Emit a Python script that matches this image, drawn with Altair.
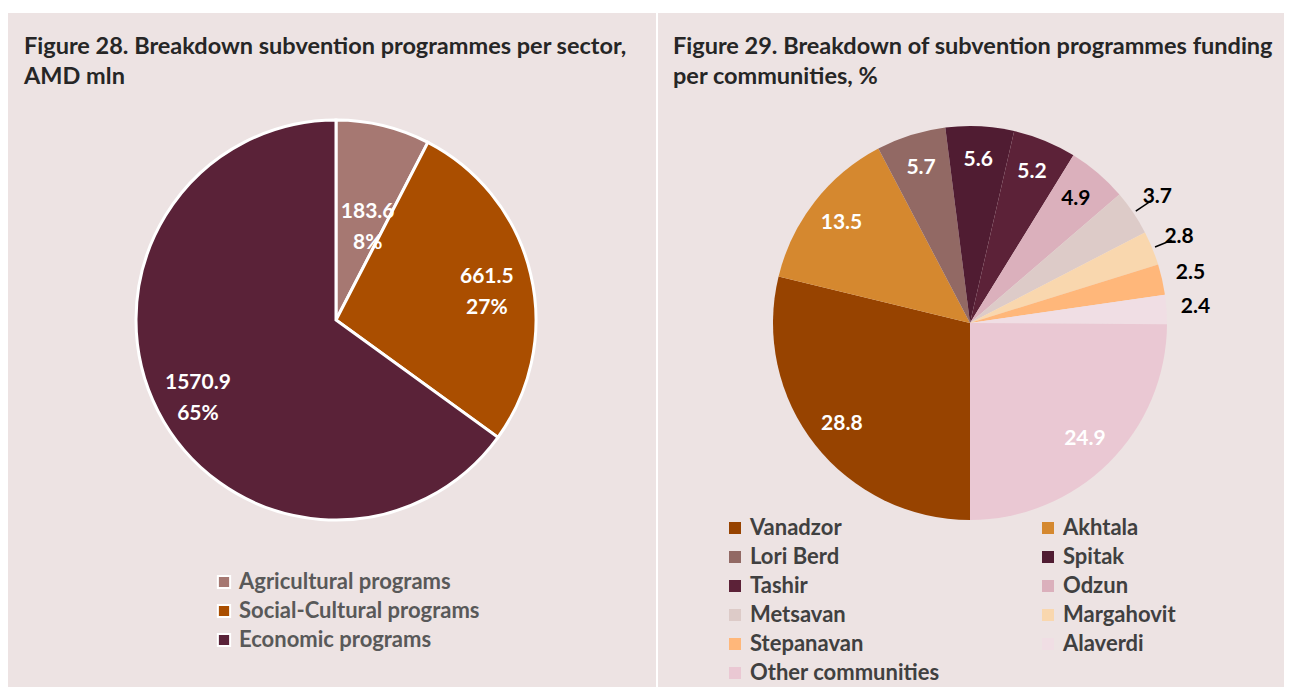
import altair as alt
import pandas as pd

# ---------------- data ----------------
sectors = ["Agricultural programs", "Social-Cultural programs", "Economic programs"]
sector_values = [183.6, 661.5, 1570.9]
sector_colors = ["#A67872", "#AA4E00", "#5A2238"]

communities = ["Vanadzor", "Akhtala", "Lori Berd", "Spitak", "Tashir", "Odzun",
               "Metsavan", "Margahovit", "Stepanavan", "Alaverdi", "Other communities"]
community_values = [28.8, 13.5, 5.7, 5.6, 5.2, 4.9, 3.7, 2.8, 2.5, 2.4, 24.9]
community_colors = ["#974300", "#D5882F", "#926964", "#501C32", "#5C2238", "#DBB0BC",
                    "#DDCBC8", "#F9D7AE", "#FFB77A", "#F0DEE4", "#EAC8D3"]
leader_cats = ["Metsavan", "Margahovit"]

title_left = ["Figure 28. Breakdown subvention programmes per sector,", "AMD mln"]
title_right = ["Figure 29. Breakdown of subvention programmes funding", "per communities, %"]

# ---------------- style ----------------
BG = "#EDE3E3"
FONT = "Lato"
LW, RW, H = 648, 626, 674
TITLE_SIZE = 23.5
LEG_SIZE = 22

# legend is filled column by column: reorder so it reads row by row (2 columns)
legend_order = communities[0::2] + communities[1::2]
color_of = dict(zip(communities, community_colors))

# ---------------- left panel ----------------
df1 = pd.DataFrame({"sector": sectors, "value": sector_values, "idx": list(range(len(sectors)))})
CX1, CY1, R1 = 328, 307, 200

base1 = alt.Chart(df1).encode(
    theta=alt.Theta("value:Q", stack=True),
    order=alt.Order("idx:Q"),
    x=alt.value(CX1),
    y=alt.value(CY1),
)

arc1 = base1.mark_arc(outerRadius=R1, stroke="white", strokeWidth=3).encode(
    color=alt.Color(
        "sector:N",
        sort=sectors,
        scale=alt.Scale(domain=sectors, range=sector_colors),
        legend=alt.Legend(
            orient="none", legendX=205, legendY=558, title=None, padding=0,
            symbolType="square", symbolSize=150, symbolStrokeColor="white",
            symbolStrokeWidth=2, symbolOpacity=1,
            labelFont=FONT, labelFontSize=LEG_SIZE, labelFontWeight="bold",
            labelColor="#595959", rowPadding=7, labelOffset=4, labelLimit=400,
        ),
    )
)

lab1base = base1.encode(detail="sector:N").transform_joinaggregate(
    total="sum(value)"
).transform_calculate(
    share="datum.value / datum.total",
    full="[format(datum.value, '.1f'), format(datum.value / datum.total, '.0%')]",
)
lab1_small = lab1base.transform_calculate(
    t="datum.share < 0.1 ? datum.full : ''"
).mark_text(radius=100, font=FONT, fontSize=21, fontWeight="bold", color="white",
            lineHeight=31, baseline="middle", dy=-11, dx=8).encode(text="t:N")
lab1_big = lab1base.transform_calculate(
    t="datum.share >= 0.1 ? datum.full : ''"
).mark_text(radius=155, font=FONT, fontSize=21, fontWeight="bold", color="white",
            lineHeight=31, baseline="middle", dy=-7).encode(text="t:N")

title1 = alt.Chart(pd.DataFrame({"k": [0]})).mark_text(
    text=title_left, align="left", baseline="middle", font=FONT, fontSize=TITLE_SIZE,
    fontWeight="bold", color="#262626", lineHeight=30,
).encode(x=alt.value(16), y=alt.value(34))

left = alt.layer(arc1, lab1_small, lab1_big, title1).properties(width=LW, height=H)

# ---------------- right panel ----------------
df2 = pd.DataFrame({"community": communities, "value": community_values,
                    "idx": list(range(len(communities)))})
CX2, CY2, R2 = 312, 310, 197
PI = 3.141592653589793

base2 = alt.Chart(df2).encode(
    theta=alt.Theta("value:Q", stack=True, scale=alt.Scale(range=[PI, 3 * PI])),
    order=alt.Order("idx:Q"),
    x=alt.value(CX2),
    y=alt.value(CY2),
)

arc2 = base2.mark_arc(outerRadius=R2).encode(
    color=alt.Color(
        "community:N",
        scale=alt.Scale(domain=legend_order, range=[color_of[c] for c in legend_order]),
        legend=alt.Legend(
            orient="none", legendX=66, legendY=504, title=None, padding=0,
            columns=2, columnPadding=97,
            symbolType="square", symbolSize=144, symbolStrokeWidth=0, symbolOpacity=1,
            labelFont=FONT, labelFontSize=LEG_SIZE, labelFontWeight="bold",
            labelColor="#404040", rowPadding=7, labelOffset=4, labelLimit=400,
        ),
    )
)

lab2base = base2.encode(detail="community:N").transform_calculate(
    s="format(datum.value, '.1f')"
)
lab2_in = lab2base.transform_calculate(
    t="datum.value >= 4.5 ? datum.s : ''"
).mark_text(radius=163, font=FONT, fontSize=21, fontWeight="bold").encode(
    text="t:N",
    color=alt.condition("datum.value >= 5", alt.value("white"), alt.value("black")),
)
lab2_out = lab2base.transform_calculate(
    t="datum.value < 4.5 ? datum.s : ''"
).mark_text(radius=226, font=FONT, fontSize=21, fontWeight="bold", color="black").encode(
    text="t:N"
)

leader = alt.Chart(df2).transform_joinaggregate(
    total="sum(value)"
).transform_window(
    cum="sum(value)", sort=[alt.SortField("idx")]
).transform_calculate(
    mid=f"{PI} + 2 * {PI} * (datum.cum - datum.value / 2) / datum.total",
).transform_calculate(
    xa=f"{CX2} + {R2 + 3} * sin(datum.mid)",
    ya=f"{CY2} - {R2 + 3} * cos(datum.mid)",
    xb=f"{CX2} + {R2 + 21} * sin(datum.mid)",
    yb=f"{CY2} - {R2 + 21} * cos(datum.mid)",
).transform_filter(
    alt.FieldOneOfPredicate(field="community", oneOf=leader_cats)
).mark_rule(color="black", strokeWidth=1.5).encode(
    x=alt.X("xa:Q", scale=None), y=alt.Y("ya:Q", scale=None),
    x2="xb:Q", y2="yb:Q",
)

title2 = alt.Chart(pd.DataFrame({"k": [0]})).mark_text(
    text=title_right, align="left", baseline="middle", font=FONT, fontSize=TITLE_SIZE,
    fontWeight="bold", color="#262626", lineHeight=30,
).encode(x=alt.value(15), y=alt.value(34))

right = alt.layer(arc2, lab2_in, lab2_out, leader, title2).properties(width=RW, height=H)

chart = alt.hconcat(left, right, spacing=2).resolve_scale(
    color="independent", theta="independent"
).resolve_legend(color="independent").properties(
    padding={"top": 5, "left": 0, "right": 0, "bottom": 0},
    background="white",
).configure_view(stroke=None, fill=BG)

chart.save("out.html", embed_options={"renderer": "svg", "actions": False})
